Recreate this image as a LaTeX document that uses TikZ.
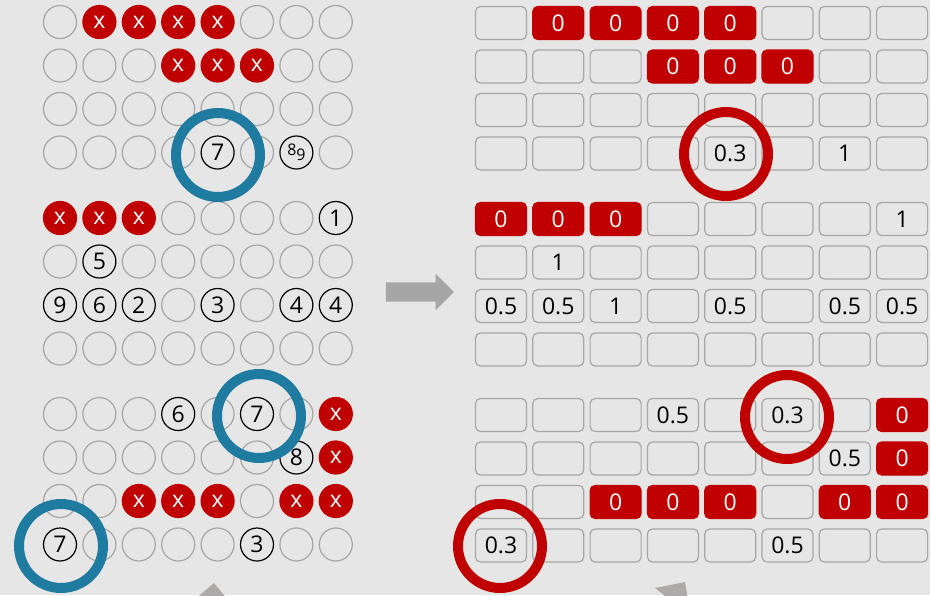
\documentclass[tikz,border=0pt]{standalone}
\usepackage{fontspec}
\setmainfont{Open Sans}
\usetikzlibrary{shapes.arrows}
\definecolor{bgray}{HTML}{E7E6E6}
\definecolor{lgray}{HTML}{A6A6A6}
\definecolor{agray}{HTML}{AEAAAA}
\definecolor{xred}{HTML}{C00000}
\definecolor{rblue}{HTML}{1F7BA0}
\tikzset{
	every node/.style={font=\fontsize{23}{23}\selectfont},
	dot/.style={circle, draw=lgray, line width=1.2pt, minimum size=33pt, inner sep=0pt},
	numdot/.style={dot, draw=black},
	xdot/.style={dot, draw=xred, fill=xred, text=white},
	box/.style={rectangle, rounded corners=5pt, draw=lgray, line width=1.2pt, minimum width=51pt, minimum height=33pt, inner sep=0pt},
	zerobox/.style={box, draw=xred, fill=xred, text=white},
	ring/.style={circle, draw=#1, line width=10pt, minimum size=84pt, inner sep=0pt},
	bigarrow/.style={single arrow, fill=lgray, minimum height=68pt, minimum width=36pt, inner xsep=0pt, inner ysep=9.5pt, single arrow head extend=8.5pt, single arrow head indent=0pt}
}
\def\omark{o}
\def\xmark{x}
\def\zmark{0}
\protected\def\eightnine{{\fontsize{16}{16}\selectfont\raisebox{2.5pt}{8}\raisebox{-2.5pt}{9}}}
\begin{document}
\begin{tikzpicture}[x=1pt, y=-1pt]
	\useasboundingbox (0,0) rectangle (930,595);
	\fill[bgray] (0,0) rectangle (930,595);
	\clip (0,0) rectangle (930,595);
	% circles on the left
	\foreach \y/\row [count=\r] in {22/{o,x,x,x,x,o,o,o}, 65.5/{o,o,o,x,x,x,o,o}, 109/{o,o,o,o,o,o,o,o}, 152.5/{o,o,o,o,7,o,\eightnine,o},
		218/{x,x,x,o,o,o,o,1}, 261.5/{o,5,o,o,o,o,o,o}, 305/{9,6,2,o,3,o,4,4}, 348.5/{o,o,o,o,o,o,o,o},
		414/{o,o,o,6,o,7,o,x}, 457.5/{o,o,o,o,o,o,8,x}, 501/{o,o,x,x,x,o,x,x}, 544.5/{7,o,o,o,o,3,o,o}}
	\foreach \t [count=\i] in \row {
		\edef\tmp{\t}
		\ifx\tmp\omark \def\sty{dot}\def\txt{}\else\ifx\tmp\xmark \def\sty{xdot}\def\txt{x}\else \def\sty{numdot}\def\txt{\t}\fi\fi
		\node[\sty] (c-\r-\i) at ({60+39.4*(\i-1)},\y) {\txt};
	};
	% boxes on the right
	\foreach \y/\row [count=\r] in {23/{o,0,0,0,0,o,o,o}, 66.5/{o,o,o,0,0,0,o,o}, 110/{o,o,o,o,o,o,o,o}, 153.5/{o,o,o,o,0.3,o,1,o},
		219/{0,0,0,o,o,o,o,1}, 262.5/{o,1,o,o,o,o,o,o}, 306/{0.5,0.5,1,o,0.5,o,0.5,0.5}, 349.5/{o,o,o,o,o,o,o,o},
		415/{o,o,o,0.5,o,0.3,o,0}, 458.5/{o,o,o,o,o,o,0.5,0}, 502/{o,o,0,0,0,o,0,0}, 545.5/{0.3,o,o,o,o,0.5,o,o}}
	\foreach \t [count=\i] in \row {
		\edef\tmp{\t}
		\ifx\tmp\omark \def\sty{box}\def\txt{}\else\ifx\tmp\zmark \def\sty{zerobox}\def\txt{0}\else \def\sty{box}\def\txt{\t}\fi\fi
		\node[\sty] (b-\r-\i) at ({501+57.3*(\i-1)},\y) {\txt};
	};
	\node[ring=rblue] (ringa) at (218,155) {};
	\node[ring=rblue] (ringb) at (259,416) {};
	\node[ring=rblue] (ringc) at (61,546) {};
	\node[ring=xred] (ringd) at (726,154) {};
	\node[ring=xred] (ringe) at (787,417) {};
	\node[ring=xred] (ringf) at (500,546) {};
	\node[bigarrow] (step) at (415,292) {};
	\fill[agray] (214,583) -- (228,600) -- (194,600) -- cycle;
	\fill[agray] (655,588) -- (685,582) -- (688,600) -- (670,600) -- cycle;
\end{tikzpicture}
\end{document}
